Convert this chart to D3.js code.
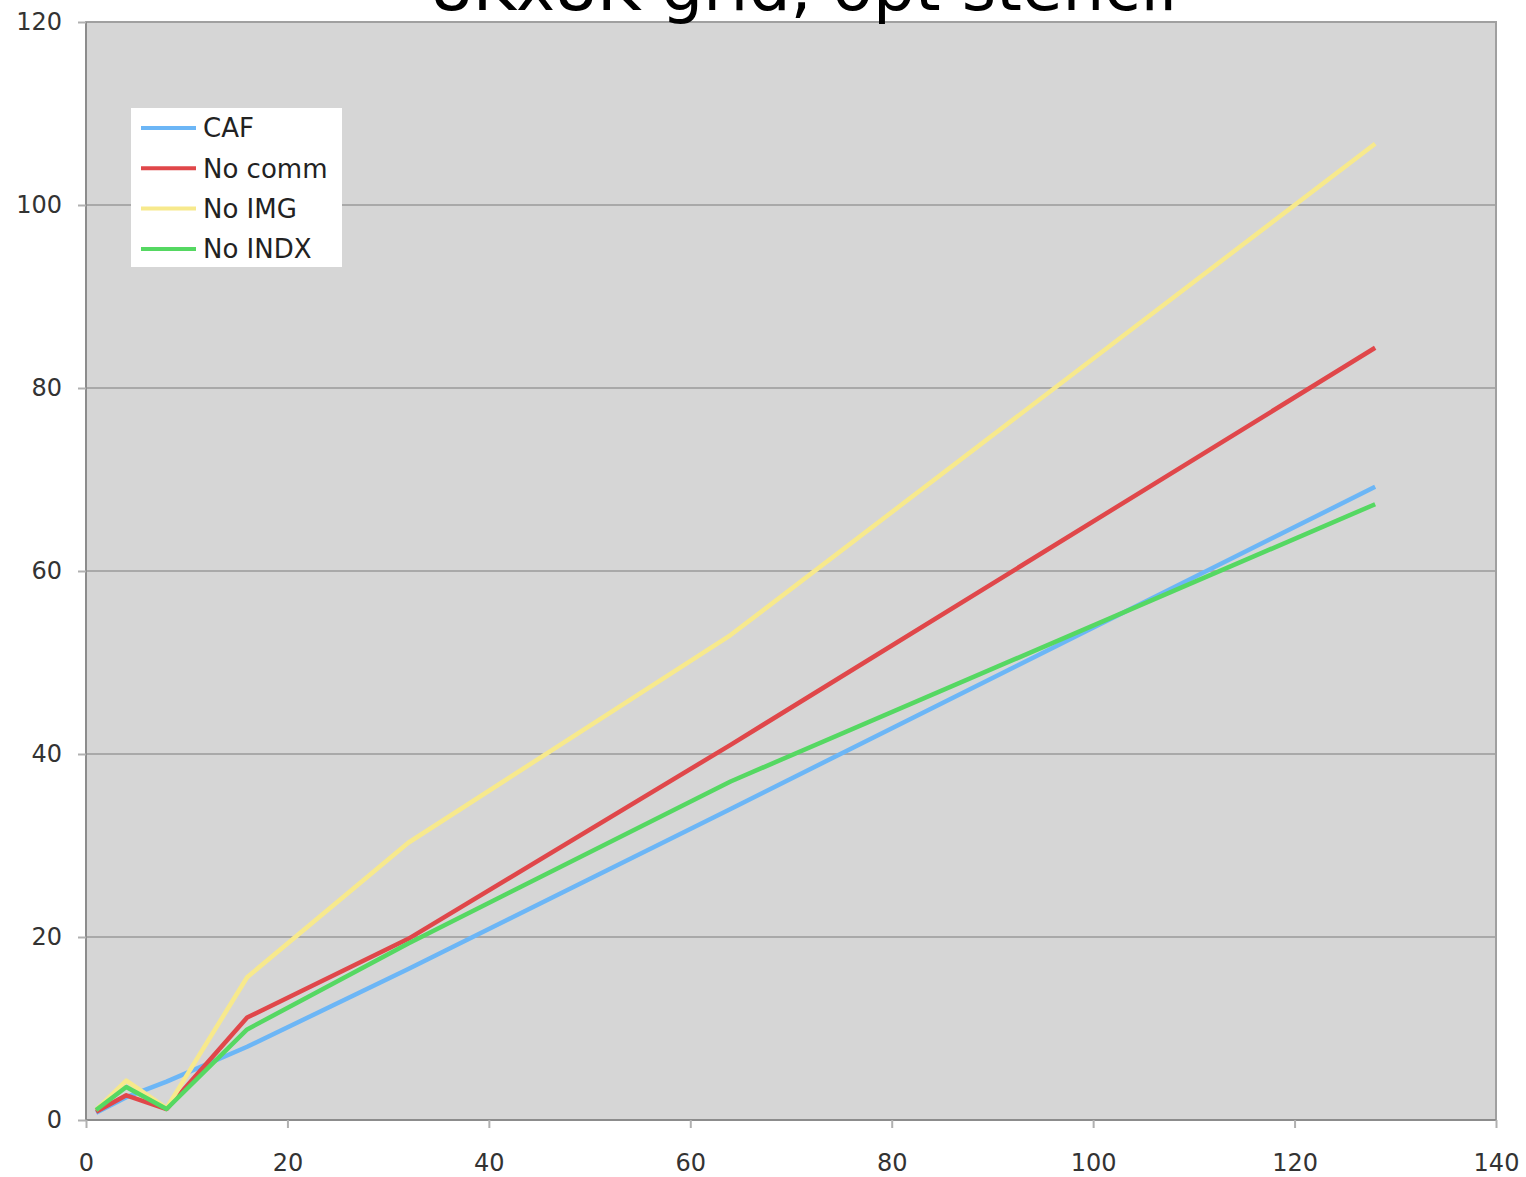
<!DOCTYPE html>
<html><head><meta charset="utf-8">
<script src="https://cdn.jsdelivr.net/npm/d3@7"></script>
<style>body{margin:0;background:#fff;}svg{display:block;}</style>
</head><body>
<svg id="chart" width="1526" height="1177"></svg>
<script>
const procs = [1, 4, 8, 16, 32, 64, 128];
const seriesNames = ["CAF", "No comm", "No IMG", "No INDX"];
const cafValues = [0.8, 2.5, 4.2, 8.0, 16.5, 34.0, 69.2];
const noCommValues = [0.9, 2.7, 1.2, 11.2, 19.8, 41.0, 84.4];
const noImgValues = [1.1, 4.3, 1.3, 15.6, 30.3, 53.0, 106.7];
const noIndxValues = [1.1, 3.6, 1.2, 9.9, 19.3, 37.0, 67.3];
const seriesColors = ["#6cb6f6", "#e0474a", "#f7e98c", "#55d862"];
const xTicks = [0, 20, 40, 60, 80, 100, 120, 140];
const yTicks = [0, 20, 40, 60, 80, 100, 120];
const title = "8Kx8K grid, opt stencil";

const allValues = [cafValues, noCommValues, noImgValues, noIndxValues];
const svg = d3.select("#chart");
const L = 86, R = 1496, T = 22, B = 1120;
const x = d3.scaleLinear().domain([0, 140]).range([L, R]);
const y = d3.scaleLinear().domain([0, 120]).range([B, T]);

// plot background
svg.append("rect").attr("x", L).attr("y", T).attr("width", R - L).attr("height", B - T)
  .attr("fill", "#d6d6d6");

// gridlines
svg.append("g").selectAll("line").data(yTicks.filter(d => d > 0 && d < 120)).join("line")
  .attr("x1", L).attr("x2", R).attr("y1", d => y(d)).attr("y2", d => y(d))
  .attr("stroke", "#a9a9a9").attr("stroke-width", 2);

// border
svg.append("rect").attr("x", L).attr("y", T).attr("width", R - L).attr("height", B - T)
  .attr("fill", "none").attr("stroke", "#a0a0a0").attr("stroke-width", 2);
svg.append("line").attr("x1", L).attr("x2", L).attr("y1", T).attr("y2", B)
  .attr("stroke", "#8c8c8c").attr("stroke-width", 2);
svg.append("line").attr("x1", L).attr("x2", R).attr("y1", B).attr("y2", B)
  .attr("stroke", "#8c8c8c").attr("stroke-width", 2);

// axes
const xAxis = d3.axisBottom(x).tickValues(xTicks).tickSize(8).tickPadding(26).tickFormat(d3.format("d"));
const yAxis = d3.axisLeft(y).tickValues(yTicks).tickSize(8).tickPadding(16).tickFormat(d3.format("d"));
const gx = svg.append("g").attr("transform", `translate(0,${B})`).call(xAxis);
const gy = svg.append("g").attr("transform", `translate(${L},0)`).call(yAxis);
[gx, gy].forEach(g => {
  g.select(".domain").remove();
  g.selectAll(".tick line").attr("stroke", "#b0b0b0").attr("stroke-width", 2);
  g.selectAll(".tick text").attr("fill", "#333").style("font-family", "'DejaVu Sans', Verdana, sans-serif").style("font-size", "24px");
});

// lines
const line = d3.line().x((d, i) => x(procs[i])).y(d => y(d));
svg.append("g").selectAll("path").data(allValues).join("path")
  .attr("d", d => line(d))
  .attr("fill", "none")
  .attr("stroke", (d, i) => seriesColors[i])
  .attr("stroke-width", 4.5)
  .attr("stroke-linejoin", "round");

// legend
const lg = svg.append("g");
lg.append("rect").attr("x", 131).attr("y", 108).attr("width", 211).attr("height", 159).attr("fill", "#fff");
const rows = lg.selectAll("g.row").data(seriesNames).join("g").attr("class", "row")
  .attr("transform", (d, i) => `translate(0,${128 + i * 40.3})`);
rows.append("line").attr("x1", 141).attr("x2", 196).attr("y1", 0).attr("y2", 0)
  .attr("stroke", (d, i) => seriesColors[i]).attr("stroke-width", 4);
rows.append("text").attr("x", 203).attr("y", 0).attr("dy", "0.36em").text(d => d)
  .attr("fill", "#222").style("font-family", "'DejaVu Sans', Verdana, sans-serif").style("font-size", "26px");

// title (partially cut off at top)
svg.append("text").attr("x", 804).attr("y", 10).attr("text-anchor", "middle")
  .text(title).attr("fill", "#000")
  .style("font-family", "'DejaVu Sans', Verdana, sans-serif").style("font-size", "66px");
</script>
</body></html>
